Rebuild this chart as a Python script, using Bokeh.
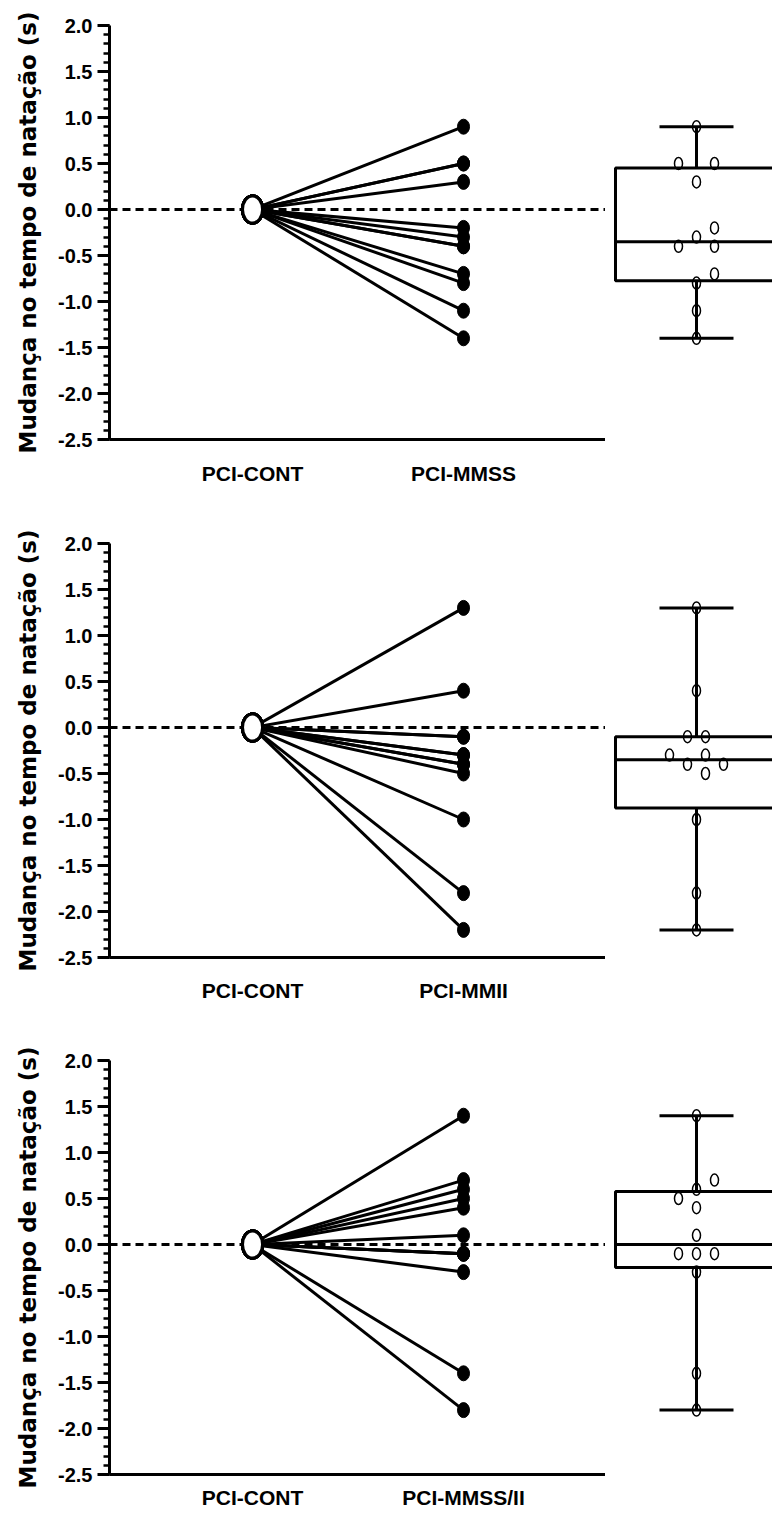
import numpy as np
from bokeh.plotting import figure
from bokeh.layouts import column, row
from bokeh.models import Range1d, FixedTicker, Span, PrintfTickFormatter
from bokeh.embed import file_html
from bokeh.resources import INLINE

# ---------------- data ----------------
control_name = "PCI-CONT"
group_names = ["PCI-MMSS", "PCI-MMII", "PCI-MMSS/II"]

cont_values = [0.0, 0.0, 0.0, 0.0, 0.0, 0.0, 0.0, 0.0, 0.0, 0.0, 0.0, 0.0]

mmss_values = [0.9, 0.5, 0.5, 0.3, -0.2, -0.3, -0.4, -0.4, -0.7, -0.8, -1.1, -1.4]
mmii_values = [1.3, 0.4, -0.1, -0.1, -0.3, -0.3, -0.4, -0.4, -0.5, -1.0, -1.8, -2.2]
mmssii_values = [1.4, 0.7, 0.6, 0.5, 0.4, 0.1, -0.1, -0.1, -0.1, -0.3, -1.4, -1.8]

# scatter spreading lane of each point in the box plot (units of half a dot)
mmss_lanes = [0, -2, 2, 0, 2, 0, -2, 2, 2, 0, 0, 0]
mmii_lanes = [0, 0, -1, 1, -3, 1, -1, 3, 1, 0, 0, 0]
mmssii_lanes = [0, 2, 0, -2, 0, 0, -2, 0, 2, 0, 0, 0]

y_ticks = [-2.5, -2.0, -1.5, -1.0, -0.5, 0.0, 0.5, 1.0, 1.5, 2.0]
y_label = "Mudança no tempo de natação (s)"

# ---------------- styling ----------------
FRAME_H = 414
LEFT_W = 605
BOX_W = 167
TICK_FONT = "Liberation Sans"
LABEL_FONT = "Liberation Sans"
YLABEL_FONT = "DejaVu Sans"
LANE_STEP = 9
BOX_HALF = 81
CAP_HALF = 37


def style_blank(fig):
    fig.grid.visible = False
    fig.outline_line_color = None
    fig.background_fill_color = "white"
    fig.border_fill_color = "white"


def make_panel(group, values, lanes, height, top, x_standoff):
    bottom = height - top - FRAME_H
    n = len(values)
    p = figure(width=LEFT_W, height=height,
               x_range=Range1d(-0.678, 1.673), y_range=Range1d(-2.5, 2.0),
               output_backend="svg", toolbar_location=None,
               min_border_left=109, min_border_right=0,
               min_border_top=top, min_border_bottom=bottom)
    style_blank(p)

    # y axis
    ya = p.yaxis[0]
    minor = [round(v, 1) for v in np.arange(-2.5, 2.0001, 0.1)]
    ya.ticker = FixedTicker(ticks=y_ticks, minor_ticks=minor)
    ya.formatter = PrintfTickFormatter(format="%.1f")
    ya.axis_line_width = 3
    ya.major_tick_line_width = 3
    ya.minor_tick_line_width = 2.5
    ya.major_tick_out = 12
    ya.major_tick_in = 0
    ya.minor_tick_out = 6
    ya.minor_tick_in = 0
    ya.major_label_standoff = 5
    ya.major_label_text_font = TICK_FONT
    ya.major_label_text_font_style = "bold"
    ya.major_label_text_font_size = "20px"
    ya.major_label_text_color = "black"
    ya.axis_label = y_label
    ya.axis_label_text_font = YLABEL_FONT
    ya.axis_label_text_font_style = "bold"
    ya.axis_label_text_font_size = "23px"
    ya.axis_label_text_color = "black"
    ya.axis_label_standoff = 14

    # x axis
    xa = p.xaxis[0]
    xa.ticker = FixedTicker(ticks=[0, 1], minor_ticks=[])
    xa.major_label_overrides = {0: control_name, 1: group}
    xa.axis_line_width = 3
    xa.major_tick_out = 0
    xa.major_tick_in = 0
    xa.minor_tick_out = 0
    xa.minor_tick_in = 0
    xa.major_label_standoff = x_standoff
    xa.major_label_text_font = LABEL_FONT
    xa.major_label_text_font_style = "bold"
    xa.major_label_text_font_size = "21px"
    xa.major_label_text_color = "black"

    zero = Span(location=0, dimension="width", line_color="black",
                line_width=3, line_dash="8 5", level="underlay")
    p.add_layout(zero)

    p.segment(x0=[0] * n, y0=cont_values, x1=[1] * n, y1=values,
              line_color="black", line_width=3)
    p.ellipse(x=[1] * n, y=values, width=12, height=15,
              width_units="screen", height_units="screen",
              fill_color="black", line_color="black", line_width=1)
    p.ellipse(x=[0] * n, y=cont_values, width=20, height=27,
              width_units="screen", height_units="screen",
              fill_color="white", line_color="black", line_width=3)

    # box plot
    b = figure(width=BOX_W, height=height,
               x_range=Range1d(-91, 76), y_range=Range1d(-2.5, 2.0),
               output_backend="svg", toolbar_location=None,
               x_axis_type=None, y_axis_type=None,
               min_border_left=0, min_border_right=0,
               min_border_top=top, min_border_bottom=bottom)
    style_blank(b)
    q1, med, q3 = np.percentile(values, [25, 50, 75], method="weibull")
    vmin, vmax = min(values), max(values)
    b.quad(left=[-BOX_HALF], right=[BOX_HALF], bottom=[q1], top=[q3],
           fill_color=None, line_color="black", line_width=3)
    b.segment(x0=[-BOX_HALF], x1=[BOX_HALF], y0=[med], y1=[med],
              line_color="black", line_width=3)
    b.segment(x0=[0, 0], x1=[0, 0], y0=[q3, q1], y1=[vmax, vmin],
              line_color="black", line_width=3)
    b.segment(x0=[-CAP_HALF, -CAP_HALF], x1=[CAP_HALF, CAP_HALF],
              y0=[vmax, vmin], y1=[vmax, vmin],
              line_color="black", line_width=3)
    b.ellipse(x=[l * LANE_STEP for l in lanes], y=values, width=8, height=12,
              width_units="screen", height_units="screen",
              fill_color=None, line_color="black", line_width=1.5)
    return row(p, b)


panels = [
    make_panel(group_names[0], mmss_values, mmss_lanes, 525, 25, 22),
    make_panel(group_names[1], mmii_values, mmii_lanes, 517, 18, 21),
    make_panel(group_names[2], mmssii_values, mmssii_lanes, 475, 18, 11),
]
layout = column(*panels)

open("out.html", "w").write(file_html(layout, INLINE))
